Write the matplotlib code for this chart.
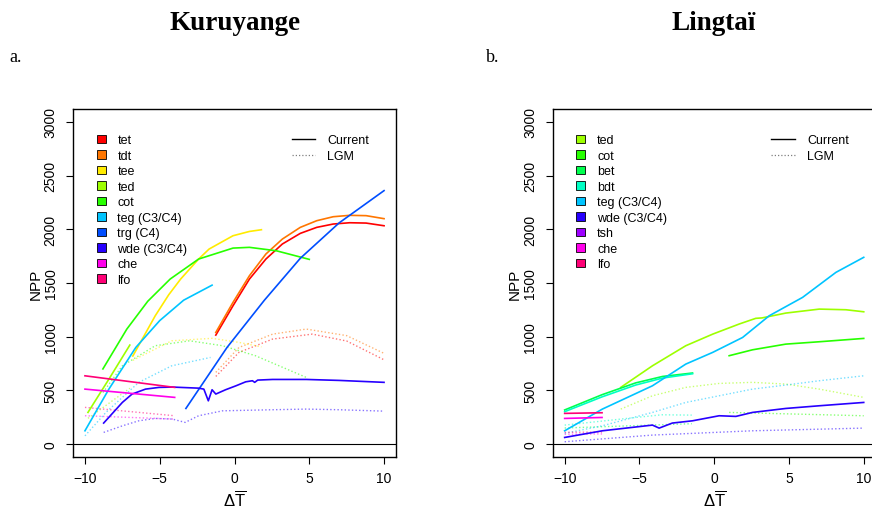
import matplotlib
matplotlib.use("Agg")
import matplotlib.pyplot as plt
from matplotlib.patches import Patch
from matplotlib.lines import Line2D

plt.rcParams['font.family'] = ['Liberation Sans', 'DejaVu Sans']
plt.rcParams['mathtext.fontset'] = 'custom'
plt.rcParams['mathtext.rm'] = 'Liberation Sans'
plt.rcParams['mathtext.it'] = 'Liberation Sans'

# rainbow(13) palette, one colour per PFT
pft_names = ['tet', 'tdt', 'tee', 'ted', 'cot', 'bet', 'bdt', 'teg', 'trg', 'wde', 'tsh', 'che', 'lfo']
pft_colors = ['#FF0000', '#FF7600', '#FFEB00', '#9DFF00', '#27FF00', '#00FF4E', '#00FFC4',
              '#00C4FF', '#004EFF', '#2700FF', '#9D00FF', '#FF00EB', '#FF0076']

kur_legend = ['tet', 'tdt', 'tee', 'ted', 'cot', 'teg (C3/C4)', 'trg (C4)', 'wde (C3/C4)', 'che', 'lfo']
lin_legend = ['ted', 'cot', 'bet', 'bdt', 'teg (C3/C4)', 'wde (C3/C4)', 'tsh', 'che', 'lfo']

# ---- Kuruyange, current climate ----
k_tet_x = [-1.25, -0.1, 1.0, 2.1, 3.2, 4.4, 5.5, 6.6, 7.7, 8.8, 10]
k_tet_y = [1015, 1288, 1537, 1723, 1863, 1962, 2018, 2049, 2061, 2058, 2033]
k_tdt_x = [-1.25, -0.1, 1.0, 2.1, 3.2, 4.4, 5.5, 6.6, 7.7, 8.8, 10]
k_tdt_y = [1040, 1320, 1568, 1770, 1909, 2018, 2080, 2117, 2130, 2127, 2099]
k_tee_x = [-6.8, -5.3, -4.4, -3.6, -2.4, -1.7, -0.1, 1.0, 1.8]
k_tee_y = [820, 1195, 1390, 1537, 1723, 1816, 1940, 1980, 1996]
k_ted_x = [-9.8, -8.4, -7.0]
k_ted_y = [295, 605, 922]
k_cot_x = [-8.8, -7.2, -5.8, -4.3, -2.4, -0.1, 1.0, 2.8, 5.0]
k_cot_y = [700, 1071, 1330, 1537, 1723, 1825, 1832, 1800, 1720]
k_teg_x = [-10, -8.4, -6.6, -5.0, -3.4, -1.5]
k_teg_y = [124, 512, 900, 1150, 1340, 1480]
k_trg_x = [-3.25, -0.5, 2.0, 4.4, 7.0, 10]
k_trg_y = [332, 900, 1340, 1730, 2060, 2360]
k_wde_x = [-8.75, -7.5, -6.85, -5.95, -5.05, -4.15, -2.4, -2.05, -1.75, -1.5, -1.25,
           -0.6, 0.1, 0.75, 1.2, 1.35, 1.55, 2.55, 4.8, 7.0, 10]
k_wde_y = [196, 388, 466, 512, 528, 531, 521, 512, 403, 506, 466,
           506, 543, 580, 590, 575, 596, 602, 602, 593, 575]
k_che_x = [-10, -4]
k_che_y = [512, 435]
k_lfo_x = [-10, -4]
k_lfo_y = [636, 528]

# ---- Kuruyange, LGM ----
k_tet_lgm_x = [-1.25, 0.3, 2.55, 5.2, 7.5, 10]
k_tet_lgm_y = [630, 854, 978, 1024, 960, 785]
k_tdt_lgm_x = [-1.25, 0.3, 2.55, 4.8, 7.5, 10]
k_tdt_lgm_y = [668, 900, 1024, 1071, 1010, 845]
k_tee_lgm_x = [-6.8, -4.2, -1.5, 0.3, 1.8]
k_tee_lgm_y = [780, 962, 985, 947, 905]
k_ted_lgm_x = [-9.8, -7.0]
k_ted_lgm_y = [240, 520]
k_cot_lgm_x = [-8.8, -7.5, -5.3, -3.0, -0.8, 1.4, 4.8]
k_cot_lgm_y = [480, 729, 916, 962, 916, 823, 621]
k_teg_lgm_x = [-10, -8.6, -6.4, -4.2, -1.6]
k_teg_lgm_y = [77, 295, 575, 729, 807]
k_wde_lgm_x = [-8.75, -7.5, -6.4, -5.3, -4.15, -3.3, -2.4, -0.8, 2.55, 4.8, 7.0, 10]
k_wde_lgm_y = [109, 170, 217, 239, 233, 202, 264, 310, 320, 326, 320, 307]
k_che_lgm_x = [-10, -4]
k_che_lgm_y = [264, 233]
k_lfo_lgm_x = [-10, -4]
k_lfo_lgm_y = [342, 264]

# ---- Lingtai, current climate ----
l_ted_x = [-6.25, -4.13, -1.9, -0.1, 1.67, 2.78, 3.2, 4.79, 7.03, 8.81, 10]
l_ted_y = [528, 729, 916, 1024, 1118, 1171, 1175, 1220, 1257, 1251, 1232]
l_cot_x = [1.0, 2.56, 4.79, 7.03, 10]
l_cot_y = [823, 878, 931, 953, 984]
l_bet_x = [-10, -7.5, -5.25, -3.45, -1.45]
l_bet_y = [318, 460, 570, 630, 662]
l_bdt_x = [-10, -7.5, -5.25, -3.45, -1.45]
l_bdt_y = [302, 440, 550, 615, 655]
l_teg_x = [-10, -7.48, -4.13, -1.9, -0.1, 1.9, 3.68, 5.91, 8.14, 10]
l_teg_y = [124, 326, 543, 745, 854, 993, 1195, 1366, 1599, 1739]
l_wde_x = [-10, -7.48, -4.13, -3.68, -2.8, -1.45, 0.33, 1.45, 2.56, 4.79, 7.03, 10]
l_wde_y = [62, 124, 177, 149, 196, 217, 264, 258, 295, 332, 357, 388]
l_che_x = [-10, -7.5]
l_che_y = [239, 248]
l_lfo_x = [-10, -7.5]
l_lfo_y = [286, 292]

# ---- Lingtai, LGM ----
l_ted_lgm_x = [-6.25, -4.13, -1.9, 0.33, 2.56, 4.79, 7.03, 10]
l_ted_lgm_y = [326, 450, 528, 565, 575, 559, 512, 435]
l_cot_lgm_x = [1.0, 10]
l_cot_lgm_y = [295, 264]
l_bet_lgm_x = [-10, -1.5]
l_bet_lgm_y = [150, 190]
l_bdt_lgm_x = [-10, -5.25, -3.5, -1.5]
l_bdt_lgm_y = [177, 248, 273, 270]
l_teg_lgm_x = [-10, -7.5, -4.13, -1.9, 0.33, 2.56, 4.79, 7.03, 10]
l_teg_lgm_y = [100, 170, 295, 388, 450, 512, 550, 590, 636]
l_wde_lgm_x = [-10, -4.13, 2.56, 10]
l_wde_lgm_y = [22, 84, 124, 149]
l_che_lgm_x = [-10, -7.5]
l_che_lgm_y = [92, 95]
l_lfo_lgm_x = [-10, -7.5]
l_lfo_lgm_y = [110, 112]

kur_current = [('tet', k_tet_x, k_tet_y), ('tdt', k_tdt_x, k_tdt_y), ('tee', k_tee_x, k_tee_y),
               ('ted', k_ted_x, k_ted_y), ('cot', k_cot_x, k_cot_y), ('teg', k_teg_x, k_teg_y),
               ('trg', k_trg_x, k_trg_y), ('wde', k_wde_x, k_wde_y), ('che', k_che_x, k_che_y),
               ('lfo', k_lfo_x, k_lfo_y)]
kur_lgm = [('tet', k_tet_lgm_x, k_tet_lgm_y), ('tdt', k_tdt_lgm_x, k_tdt_lgm_y),
           ('tee', k_tee_lgm_x, k_tee_lgm_y), ('ted', k_ted_lgm_x, k_ted_lgm_y),
           ('cot', k_cot_lgm_x, k_cot_lgm_y), ('teg', k_teg_lgm_x, k_teg_lgm_y),
           ('wde', k_wde_lgm_x, k_wde_lgm_y), ('che', k_che_lgm_x, k_che_lgm_y),
           ('lfo', k_lfo_lgm_x, k_lfo_lgm_y)]
lin_current = [('ted', l_ted_x, l_ted_y), ('cot', l_cot_x, l_cot_y), ('bet', l_bet_x, l_bet_y),
               ('bdt', l_bdt_x, l_bdt_y), ('teg', l_teg_x, l_teg_y), ('wde', l_wde_x, l_wde_y),
               ('che', l_che_x, l_che_y), ('lfo', l_lfo_x, l_lfo_y)]
lin_lgm = [('ted', l_ted_lgm_x, l_ted_lgm_y), ('cot', l_cot_lgm_x, l_cot_lgm_y),
           ('bet', l_bet_lgm_x, l_bet_lgm_y), ('bdt', l_bdt_lgm_x, l_bdt_lgm_y),
           ('teg', l_teg_lgm_x, l_teg_lgm_y), ('wde', l_wde_lgm_x, l_wde_lgm_y),
           ('che', l_che_lgm_x, l_che_lgm_y), ('lfo', l_lfo_lgm_x, l_lfo_lgm_y)]


def col(name):
    return pft_colors[pft_names.index(name.split(' ')[0])]


def draw_panel(ax, current, lgm, legend_names):
    for name, x, y in lgm:
        ax.plot(x, y, color=col(name), lw=1.0, ls=(0, (1, 1.6)), alpha=0.55)
    for name, x, y in current:
        ax.plot(x, y, color=col(name), lw=1.2)
    ax.axhline(0, color='black', lw=0.8)
    ax.set_xlim(-10.8, 10.8)
    ax.set_ylim(-120, 3120)
    ax.set_xticks([-10, -5, 0, 5, 10])
    ax.set_xticklabels(['\u221210', '\u22125', '0', '5', '10'])
    ax.set_yticks([0, 500, 1000, 1500, 2000, 2500, 3000])
    ax.set_yticklabels(['0', '500', '1000', '1500', '2000', '2500', '3000'],
                       rotation=90, va='center')
    ax.tick_params(direction='out', length=5, width=0.8, labelsize=10)
    ax.tick_params(axis='x', pad=5)
    ax.tick_params(axis='y', pad=6)
    for s in ax.spines.values():
        s.set_linewidth(1.0)
    ax.set_ylabel('NPP', fontsize=11, labelpad=1)
    ax.set_xlabel(r'$\Delta\overline{\mathrm{T}}$', fontsize=12, labelpad=3)

    handles = [Patch(facecolor=col(n), edgecolor='black', lw=0.6) for n in legend_names]
    leg1 = ax.legend(handles, legend_names, loc='upper left', bbox_to_anchor=(0.073, 0.927),
                     frameon=False, fontsize=9, handlelength=0.72, handleheight=0.72,
                     handletextpad=0.95, labelspacing=0.28, borderpad=0, borderaxespad=0)
    ax.add_artist(leg1)
    lh = [Line2D([], [], color='black', lw=1.0),
          Line2D([], [], color='black', lw=0.9, ls=(0, (1, 1.6)), alpha=0.5)]
    ax.legend(lh, ['Current', 'LGM'], loc='upper left', bbox_to_anchor=(0.677, 0.927),
              frameon=False, fontsize=9, handlelength=1.9, handletextpad=0.95,
              labelspacing=0.28, borderpad=0, borderaxespad=0)


fig = plt.figure(figsize=(8.72, 5.10), dpi=100)
ax1 = fig.add_axes([73 / 872, 52 / 510, 323 / 872, 348 / 510])
ax2 = fig.add_axes([552.7 / 872, 52 / 510, 323 / 872, 348 / 510])

draw_panel(ax1, kur_current, kur_lgm, kur_legend)
draw_panel(ax2, lin_current, lin_lgm, lin_legend)

fig.text(235 / 872, 1 - 23 / 510, 'Kuruyange', family='Liberation Serif', weight='bold',
         fontsize=19.5, ha='center', va='center')
fig.text(714 / 872, 1 - 23 / 510, 'Lingta\u00ef', family='Liberation Serif', weight='bold',
         fontsize=19.5, ha='center', va='center')
fig.text(9 / 872, 1 - 57 / 510, 'a.', family='Liberation Serif', fontsize=13,
         ha='left', va='center')
fig.text(486 / 872, 1 - 57 / 510, 'b.', family='Liberation Serif', fontsize=13,
         ha='left', va='center')

fig.savefig('out.png', dpi=100)
